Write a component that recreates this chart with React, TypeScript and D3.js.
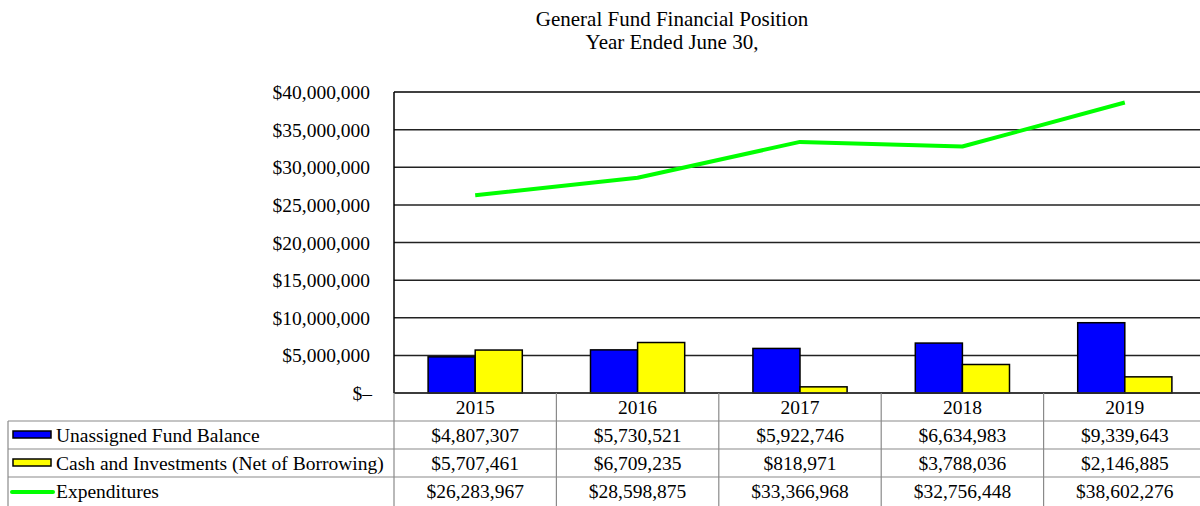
import React from "react";
import * as d3 from "d3";

const years = ["2015", "2016", "2017", "2018", "2019"];
const unassigned = [4807307, 5730521, 5922746, 6634983, 9339643];
const cashInvest = [5707461, 6709235, 818971, 3788036, 2146885];
const expenditures = [26283967, 28598875, 33366968, 32756448, 38602276];
const yTicks = [0, 5000000, 10000000, 15000000, 20000000, 25000000, 30000000, 35000000, 40000000];
const seriesNames = ["Unassigned Fund Balance", "Cash and Investments (Net of Borrowing)", "Expenditures"];
const titleLines = ["General Fund Financial Position", "Year Ended June 30,"];

const W = 1200;
const H = 506;
const FONT = "'Liberation Serif', 'Times New Roman', serif";
const FS = 19.5;

export default function App() {
  const plotL = 394;
  const plotR = 1206;
  const yTop = 92;
  const yZero = 393;
  const rowH = 28;
  const tableL = 8;

  const x = d3.scaleBand<string>().domain(years).range([plotL, plotR]).padding(0);
  const bw = x.bandwidth();
  const x1 = d3.scaleBand<string>().domain(["u", "c"]).range([bw * 0.21, bw * 0.79]).padding(0);
  const y = d3.scaleLinear().domain([0, 40000000]).range([yZero, yTop]);

  const fmtTick = (v: number) => (v === 0 ? "$–" : "$" + d3.format(",")(v));
  const fmtVal = (v: number) => "$" + d3.format(",")(v);

  const line = d3
    .line<number>()
    .x((_, i) => (x(years[i]) as number) + bw / 2)
    .y((d) => y(d));

  const rows = [unassigned, cashInvest, expenditures];
  const rowTop = (r: number) => yZero + rowH * (r + 1);

  return (
    <svg width={W} height={H} style={{ display: "block", position: "absolute", left: 0, top: 0 }} fontFamily={FONT}>
      <rect x={0} y={0} width={W} height={H} fill="#fff" />
      {/* title */}
      {titleLines.map((t, i) => (
        <text key={t} x={672} y={26 + i * 22.5} textAnchor="middle" fontSize={21} fill="#000">
          {t}
        </text>
      ))}
      {/* gridlines */}
      {yTicks.map((v) => (
        <line key={v} x1={plotL} x2={plotR} y1={y(v)} y2={y(v)} stroke={v === 40000000 ? "#000" : "#222"} strokeWidth={1.5} />
      ))}
      {/* y tick labels */}
      {yTicks.map((v) => (
        <text key={"t" + v} x={v === 0 ? 372 : 370} y={y(v) + 7} textAnchor="end" fontSize={FS} fill="#000">
          {fmtTick(v)}
        </text>
      ))}
      {/* bars */}
      {years.map((yr, i) => (
        <g key={yr} transform={`translate(${x(yr)},0)`}>
          <rect x={x1("u")} y={y(unassigned[i])} width={x1.bandwidth()} height={yZero - y(unassigned[i])} fill="#0000ff" stroke="#000" strokeWidth={1.5} />
          <rect x={x1("c")} y={y(cashInvest[i])} width={x1.bandwidth()} height={yZero - y(cashInvest[i])} fill="#ffff00" stroke="#000" strokeWidth={1.5} />
        </g>
      ))}
      {/* line */}
      <path d={line(expenditures) as string} fill="none" stroke="#00ff00" strokeWidth={4} strokeLinejoin="round" />
      {/* axis left */}
      <line x1={plotL} x2={plotL} y1={yTop} y2={yZero} stroke="#000" strokeWidth={1.5} />
      <line x1={plotL} x2={plotR} y1={yZero} y2={yZero} stroke="#333" strokeWidth={1.5} />

      {/* table lines */}
      <g stroke="#8a8a8a" strokeWidth={1.2}>
        <line x1={plotL} x2={plotL} y1={yZero} y2={H} />
        {years.map((yr, i) => (i > 0 ? <line key={yr} x1={x(yr)} x2={x(yr)} y1={yZero} y2={H} /> : null))}
        {[0, 1, 2].map((r) => (
          <line key={r} x1={tableL} x2={W} y1={rowTop(r)} y2={rowTop(r)} />
        ))}
        <line x1={tableL} x2={tableL} y1={rowTop(0)} y2={H} />
      </g>
      {/* year labels */}
      {years.map((yr) => (
        <text key={yr} x={(x(yr) as number) + bw / 2} y={yZero + 21} textAnchor="middle" fontSize={FS} fill="#000">
          {yr}
        </text>
      ))}
      {/* rows */}
      {rows.map((vals, r) => (
        <g key={r}>
          {vals.map((v, i) => (
            <text key={i} x={(x(years[i]) as number) + bw / 2} y={rowTop(r) + 21} textAnchor="middle" fontSize={FS} fill="#000">
              {fmtVal(v)}
            </text>
          ))}
          <text x={56} y={rowTop(r) + 21} fontSize={FS} fill="#000">
            {seriesNames[r]}
          </text>
        </g>
      ))}
      {/* legend keys */}
      <rect x={13} y={rowTop(0) + 10} width={38} height={7} fill="#0000ff" stroke="#000" strokeWidth={1.5} />
      <rect x={13} y={rowTop(1) + 10} width={38} height={7} fill="#ffff00" stroke="#000" strokeWidth={1.5} />
      <line x1={12} x2={53} y1={rowTop(2) + 15} y2={rowTop(2) + 15} stroke="#00ff00" strokeWidth={4} strokeLinecap="round" />
    </svg>
  );
}
